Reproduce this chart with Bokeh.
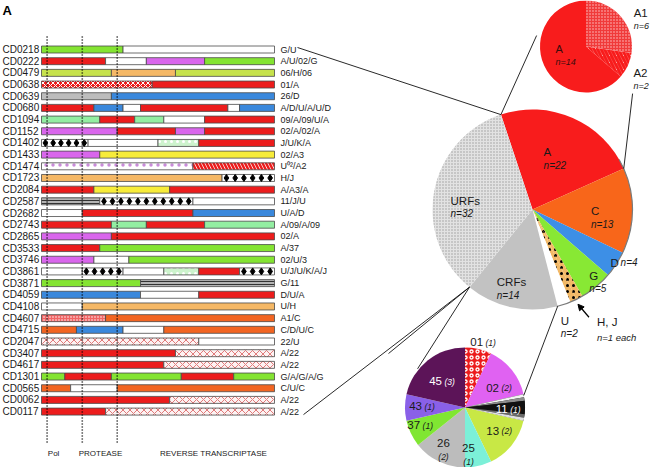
import math
from bokeh.plotting import figure
from bokeh.models import Range1d, ColumnDataSource, Arrow, NormalHead
from bokeh.embed import file_html
from bokeh.resources import INLINE
from bokeh.core.properties import value

# ---------------- data ----------------
sample_ids = ["CD0218", "CD0222", "CD0479", "CD0638", "CD0639", "CD0680", "CD1094", "CD1152",
              "CD1402", "CD1433", "CD1474", "CD1723", "CD2084", "CD2587", "CD2682", "CD2743",
              "CD2865", "CD3533", "CD3746", "CD3861", "CD3871", "CD4059", "CD4108", "CD4607",
              "CD4715", "CD2047", "CD3407", "CD4617", "CD1301", "CD0565", "CD0062", "CD0117"]
mosaic_labels = ["G/U", "A/U/02/G", "06/H/06", "01/A", "26/D", "A/D/U/A/U/D", "09/A/09/U/A",
                 "02/A/02/A", "J/U/K/A", "02/A3", "U\u2070\u00b2/A2", "H/J", "A/A3/A", "11/J/U",
                 "U/A/D", "A/09/A/09", "02/A", "A/37", "02/U/3", "U/J/U/K/A/J", "G/11", "D/U/A",
                 "U/H", "A1/C", "C/D/U/C", "22/U", "A/22", "A/22", "G/A/G/A/G", "C/U/C", "A/22", "A/22"]
segment_subtypes = [
    ["G", "U"], ["A", "U", "02", "G"], ["06", "H", "06"], ["01", "A"], ["26", "D"],
    ["A", "D", "U", "A", "U", "D"], ["09", "A", "09", "U", "A"], ["02", "A", "02", "A"],
    ["J", "U", "K", "A"], ["02", "A3"], ["U02", "A2"], ["H", "J"], ["A", "A3", "A"],
    ["11", "J", "U"], ["U", "A", "D"], ["A", "09", "A", "09"], ["02", "A"], ["A", "37"],
    ["02", "U", "37"], ["U", "J", "U", "K", "A", "J"], ["G", "11"], ["D", "U", "A"], ["U", "H"],
    ["A1", "C"], ["C", "D", "U", "C"], ["22", "U"], ["A", "22"], ["A", "22"],
    ["G", "A", "G", "A", "G"], ["C", "U", "C"], ["A", "22"], ["A", "22"],
]
breakpoints = [
    [35], [27.5, 45, 70], [30, 57.5], [47.5], [30],
    [22.5, 35, 42.5, 80, 85], [25, 40, 52.5, 70], [32.5, 57.5, 70],
    [20, 50, 67.5], [25], [65], [77.5], [22.5, 55],
    [25, 65], [17.5, 65], [30, 45, 70], [30], [25],
    [22.5, 37.5], [17.5, 35, 52.5, 67.5, 85], [42.5], [42.5, 67.5], [17.5],
    [27.5], [15, 35, 52.5], [67.5], [57.5], [52.5],
    [10, 30, 60, 82.5], [12.5, 32.5], [55], [27.5],
]
region_marks = [2.4, 17.5, 32.5]
region_names = ["Pol", "PROTEASE", "REVERSE TRANSCRIPTASE"]
region_name_at = [5.2, 25.3, 73.8]

main_groups = ["A", "C", "D", "G", "J", "H", "U", "CRFs", "URFs"]
main_counts = [22, 13, 4, 5, 1, 1, 2, 14, 32]
a_groups = ["A1", "A2", "A"]
a_counts = [6, 2, 14]
crf_groups = ["01", "02", "11", "13", "25", "26", "37", "43", "45"]
crf_counts = [1, 2, 1, 2, 1, 2, 1, 1, 3]

# ---------------- styles ----------------
RED = "#ec1c1c"
STYLE = {
    "A": (RED, "blank", "black", 6, 1),
    "A1": ("#f06464", "dot", "#ffffff", 3, 1),
    "A2": ("#ffffff", "left_diagonal_line", RED, 7, 2.5),
    "A3": ("#f7ec3a", "blank", "black", 6, 1),
    "C": ("#f26522", "blank", "black", 6, 1),
    "D": ("#3a88dc", "blank", "black", 6, 1),
    "G": ("#84e432", "blank", "black", 6, 1),
    "37": ("#84e432", "blank", "black", 6, 1),
    "H": ("#f5b866", "blank", "black", 6, 1),
    "J": ("#ffffff", "blank", "black", 6, 1),
    "K": ("#cdf3cd", "dot", "#ffffff", 6, 2),
    "U": ("#ffffff", "blank", "black", 6, 1),
    "U02": ("#ffffff", "dot", "#c98bd9", 7, 1.5),
    "01": (RED, "x", "#ffffff", 5, 1),
    "02": ("#d966ec", "blank", "black", 6, 1),
    "06": ("#c6e24c", "blank", "black", 6, 1),
    "09": ("#93eea2", "blank", "black", 6, 1),
    "11": ("#b4b4b4", "horizontal_line", "#333333", 3, 1),
    "22": ("#fdf2f2", "x", "#e07a7a", 7, 1),
    "26": ("#bdbdbd", "blank", "black", 6, 1),
}
FONT = value("Liberation Sans")
INK = "#1a1a1a"

W, H = 652, 467
p = figure(width=W, height=H, x_range=Range1d(0, W), y_range=Range1d(H, 0),
           output_backend="svg", toolbar_location=None, min_border=0,
           x_axis_location=None, y_axis_location=None)
p.grid.visible = False
p.outline_line_color = None
p.background_fill_color = "white"
p.border_fill_color = "white"


def txt(x, y, s, size, style="normal", color=INK, align="left", baseline="middle"):
    p.text(x=[x], y=[y], text=[s], text_font=FONT, text_font_size=f"{size}px",
           text_font_style=style, text_color=color, text_align=align, text_baseline=baseline)


def pt(cx, cy, r, theta):
    t = math.radians(theta)
    return cx + r * math.sin(t), cy - r * math.cos(t)


# ---------------- mosaic bars ----------------
BAR_X0, BAR_X1 = 41, 274
ROW_Y0, PITCH, BAR_H = 49, 11.68, 7
LABEL_X = 280


def bx(pct):
    return BAR_X0 + pct / 100 * (BAR_X1 - BAR_X0)


row_y = [ROW_Y0 + i * PITCH for i in range(len(sample_ids))]
seg = dict(left=[], right=[], top=[], bottom=[], fill=[], hp=[], hc=[], hs=[], hw=[])
jx, jy = [], []
for y, subs, bps in zip(row_y, segment_subtypes, breakpoints):
    edges = [0] + bps + [100]
    for k, s in enumerate(subs):
        f, hp, hc, hs, hw = STYLE[s]
        seg["left"].append(bx(edges[k]))
        seg["right"].append(bx(edges[k + 1]))
        seg["top"].append(y - BAR_H / 2)
        seg["bottom"].append(y + BAR_H / 2)
        seg["fill"].append(f)
        seg["hp"].append(hp)
        seg["hc"].append(hc)
        seg["hs"].append(hs)
        seg["hw"].append(hw)
        if s == "J":
            a, b = bx(edges[k]), bx(edges[k + 1])
            n = max(1, int(round((b - a) / 8.4)))
            step = (b - a) / n
            for m in range(n):
                jx.append(a + step * (m + 0.5))
                jy.append(y)

p.quad(left="left", right="right", top="top", bottom="bottom", source=ColumnDataSource(seg),
       fill_color="fill", hatch_pattern="hp", hatch_color="hc", hatch_scale="hs",
       hatch_weight="hw", line_color="#4a4a4a", line_width=0.8)
p.scatter(x=jx, y=jy, marker="diamond", size=7, fill_color="black", line_color="black")

p.text(x=[2] * len(row_y), y=row_y, text=sample_ids, text_font=FONT, text_font_size="10px",
       text_color=INK, text_baseline="middle")
p.text(x=[LABEL_X] * len(row_y), y=row_y, text=mosaic_labels, text_font=FONT,
       text_font_size="9px", text_color=INK, text_baseline="middle")

for m in region_marks:
    p.line(x=[bx(m), bx(m)], y=[36, 443], line_color="#000000", line_width=1.6, line_dash="1 2")
for name, at in zip(region_names, region_name_at):
    txt(bx(at), 453, name, 8, align="center")

txt(2, 2, "A", 13, style="bold", baseline="top", color="#000000")

# ---------------- pies ----------------
def draw_pie(cx, cy, r, counts, start, styles):
    total = sum(counts)
    a0 = start
    bounds = []
    for c, st in zip(counts, styles):
        a1 = a0 + 360 * c / total
        f, hp, hc, hs, hw = st
        p.wedge(x=cx, y=cy, radius=r, start_angle=math.radians(90 - a0),
                end_angle=math.radians(90 - a1), direction="clock", fill_color=f,
                line_color=None, hatch_pattern=None if hp == "blank" else hp,
                hatch_color=hc, hatch_scale=hs, hatch_weight=hw)
        bounds.append((a0, a1))
        a0 = a1
    return bounds


# main pie
MCX, MCY, MR, MSTART = 532, 209, 100, -18.4
main_styles = [
    ("#f81c1c", "blank", "black", 6, 1),
    ("#f8661a", "blank", "black", 6, 1),
    ("#3d8fe6", "blank", "black", 6, 1),
    ("#88e834", "blank", "black", 6, 1),
    ("#f2b866", "dot", "#000000", 6, 3),
    ("#f2b866", "dot", "#000000", 6, 3),
    ("#ffffff", "blank", "black", 6, 1),
    ("#c2c2c2", "blank", "black", 6, 1),
    ("#e2e2e2", "dot", "#9a9a9a", 3, 1),
]
mb = draw_pie(MCX, MCY, MR, main_counts, MSTART, main_styles)
p.arc(x=MCX, y=MCY, radius=MR, start_angle=math.radians(90 - 60), end_angle=math.radians(90 - 166),
      direction="clock", line_color="#7a7a7a", line_width=1.2)

main_label_pos = {"A": (12.3, .52), "C": (98.1, .59), "G": (142.1, .925),
                  "CRFs": (204.3, .868), "URFs": (271.6, .82), "U": (166.5, 1.21)}
for g, cnt in zip(main_groups, main_counts):
    if g in main_label_pos:
        th, fr = main_label_pos[g]
        x, y = pt(MCX, MCY, fr * MR, th)
        txt(x, y - 6.5, g, 11.5)
        txt(x, y + 6.5, f"n={cnt}", 10, style="italic")
# D single-line label
x, y = pt(MCX, MCY, .945 * MR, 124.3)
txt(x, y, "D", 11.5)
txt(x + 10, y, f"n={main_counts[main_groups.index('D')]}", 10, style="italic")
# H, J note
x, y = pt(MCX, MCY, 1.36 * MR, 151.7)
txt(x, y - 7.5, "H, J", 11.5)
txt(x, y + 8, "n=1 each", 9.5, style="italic")
p.add_layout(Arrow(end=NormalHead(size=6, fill_color="black", line_color="black"),
                   x_start=x - 8, y_start=y - 12, x_end=x - 19, y_end=y - 25,
                   line_width=1.2, line_color="black"))

# top pie (A sub-subtypes)
TCX, TCY, TR = 585.5, 46, 46
a_styles = [
    ("#f03a3a", "dot", "#ffc8c8", 3, 1),
    ("#ffffff", "left_diagonal_line", "#f81c1c", 7, 3),
    ("#f81c1c", "blank", "black", 6, 1),
]
draw_pie(TCX, TCY, TR, a_counts, 0, a_styles)
a_label_pos = {"A": (254.1, .69, 11, 9, "#3a0c0c"), "A1": (60.6, 1.19, 11.5, 9, INK),
               "A2": (124.5, 1.25, 11.5, 9, INK)}
for g, cnt in zip(a_groups, a_counts):
    th, fr, s1, s2, col = a_label_pos[g]
    x, y = pt(TCX, TCY, fr * TR, th)
    txt(x, y - 6.5, g, s1, color=col)
    txt(x, y + 6.5, f"n={cnt}", s2, style="italic", color=col)

# bottom pie (CRFs)
BCX, BCY, BR = 464.5, 407, 60
crf_styles = [
    (RED, "ring", "#ffffff", 6, 1.3),
    ("#e062f2", "blank", "black", 6, 1),
    ("#111111", "blank", "black", 6, 1),
    ("#c8e845", "blank", "black", 6, 1),
    ("#7cf0d8", "blank", "black", 6, 1),
    ("#bcbcbc", "blank", "black", 6, 1),
    ("#80e632", "blank", "black", 6, 1),
    ("#8a60e8", "blank", "black", 6, 1),
    ("#5c1458", "blank", "black", 6, 1),
]
cb = draw_pie(BCX, BCY, BR, crf_counts, 0, crf_styles)
# sheen on the CRF 11 slice
a0, a1 = cb[crf_groups.index("11")]
w = a1 - a0
acc = a0
for frac, col in zip([0.12, 0.13, 0.5, 0.13, 0.12], ["#f2f2f2", "#8c8c8c", "#111111", "#6a6a6a", "#e0e0e0"]):
    p.wedge(x=BCX, y=BCY, radius=BR, start_angle=math.radians(90 - acc),
            end_angle=math.radians(90 - (acc + frac * w)), direction="clock",
            fill_color=col, line_color=None)
    acc += frac * w

crf_label_pos = {"01": (16.3, 1.13), "02": (60.3, .67), "11": (92.6, .73), "13": (123.3, .70),
                 "25": (175.8, .80), "26": (206.6, .80), "37": (247.8, .79), "43": (271.4, .70),
                 "45": (319.8, .57)}
stacked = {"25", "26"}
white_txt = {"11", "45"}
for g, cnt in zip(crf_groups, crf_counts):
    th, fr = crf_label_pos[g]
    x, y = pt(BCX, BCY, fr * BR, th)
    col = "#ffffff" if g in white_txt else INK
    if g in stacked:
        txt(x, y - 7, g, 11.5, align="center", color=col)
        txt(x, y + 7, f"({cnt})", 8.5, style="italic", align="center", color=col)
    else:
        txt(x - 1, y, g, 11.5, align="right", color=col)
        txt(x + 1.5, y + 0.5, f"({cnt})", 8.5, style="italic", color=col)

# ---------------- leader lines ----------------
LW, LC = 0.9, "#111111"
main_start = pt(MCX, MCY, MR, mb[0][0])
ac_edge = pt(MCX, MCY, MR, mb[0][1])
crf_urf = pt(MCX, MCY, MR, mb[main_groups.index("CRFs")][1])
u_crf = pt(MCX, MCY, MR, mb[main_groups.index("CRFs")][0])
leaders = [
    ((LABEL_X + 17, row_y[0] - 2), main_start),
    ((LABEL_X + 23, row_y[-1] + 3), crf_urf),
    (main_start, pt(TCX, TCY, 1.10 * TR, 282.5)),
    (ac_edge, pt(TCX, TCY, 1.44 * TR, 135.3)),
    (crf_urf, pt(BCX, BCY, 1.02 * BR, 309.2)),
    (crf_urf, pt(BCX, BCY, 1.56 * BR, 305.2)),
    (u_crf, pt(BCX, BCY, 1.0 * BR, 78.4)),
]
p.segment(x0=[a[0] for a, b in leaders], y0=[a[1] for a, b in leaders],
          x1=[b[0] for a, b in leaders], y1=[b[1] for a, b in leaders],
          line_color=LC, line_width=LW)

open("out.html", "w").write(file_html(p, INLINE))
